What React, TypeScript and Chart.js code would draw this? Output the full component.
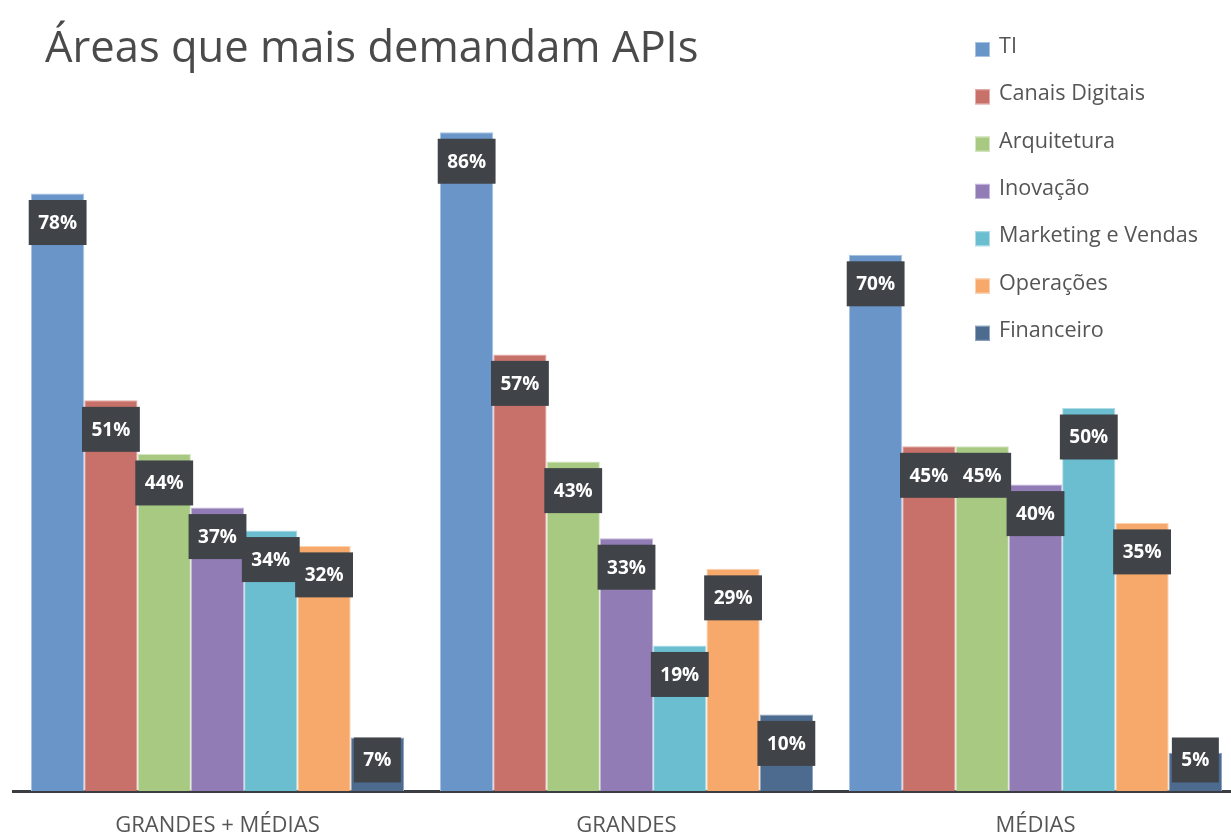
import React, { useEffect, useRef } from "react";
import { Chart, registerables } from "chart.js";

Chart.register(...registerables);

const TITLE = "Áreas que mais demandam APIs";
const categories = ["GRANDES + MÉDIAS", "GRANDES", "MÉDIAS"];
const seriesNames = ["TI", "Canais Digitais", "Arquitetura", "Inovação", "Marketing e Vendas", "Operações", "Financeiro"];
const ti = [78, 86, 70];
const canaisDigitais = [51, 57, 45];
const arquitetura = [44, 43, 45];
const inovacao = [37, 33, 40];
const marketingVendas = [34, 19, 50];
const operacoes = [32, 29, 35];
const financeiro = [7, 10, 5];
const seriesValues = [ti, canaisDigitais, arquitetura, inovacao, marketingVendas, operacoes, financeiro];
const colors = ["#6a95c9", "#c8706a", "#a8c982", "#917cb5", "#6bbdd0", "#f7a96b", "#4d6a8f"];
const borderColors = ["#a9c3e3", "#e3b0ab", "#d4e6bf", "#c4b6dc", "#b0dde8", "#fbd2b0", "#8fa5c2"];

const FONT = "'Open Sans', 'Noto Sans', sans-serif";

const overlayPlugin = {
  id: "overlay",
  afterDatasetsDraw(chart: any) {
    const ctx = chart.ctx;
    ctx.save();
    ctx.font = `bold 19px ${FONT}`;
    ctx.textAlign = "center";
    ctx.textBaseline = "middle";
    chart.data.datasets.forEach((ds: any, di: number) => {
      const meta = chart.getDatasetMeta(di);
      meta.data.forEach((bar: any, i: number) => {
        const text = `${ds.data[i]}%`;
        const w = ctx.measureText(text).width + 19;
        const h = 45;
        const cy = Math.min(bar.y + 29, 760);
        ctx.fillStyle = "#404448";
        ctx.fillRect(bar.x - w / 2, cy - h / 2, w, h);
        ctx.fillStyle = "#ffffff";
        ctx.fillText(text, bar.x, cy + 1);
      });
    });
    ctx.restore();
  },
  afterDraw(chart: any) {
    const ctx = chart.ctx;
    ctx.save();
    ctx.fillStyle = "#4a4a4a";
    ctx.font = `43.5px ${FONT}`;
    ctx.textAlign = "left";
    ctx.textBaseline = "alphabetic";
    ctx.fillText(TITLE, 45, 62);
    ctx.font = `21.6px ${FONT}`;
    ctx.textBaseline = "middle";
    seriesNames.forEach((name, i) => {
      const y = 47 + i * 47.3;
      ctx.fillStyle = colors[i];
      ctx.fillRect(975, y - 5, 15, 15);
      ctx.strokeStyle = borderColors[i];
      ctx.lineWidth = 1;
      ctx.strokeRect(975.5, y - 4.5, 14, 14);
      ctx.fillStyle = "#555555";
      ctx.fillText(name, 999, y);
    });
    ctx.restore();
  },
};

export default function App() {
  const ref = useRef<HTMLCanvasElement>(null);
  useEffect(() => {
    if (!ref.current) return;
    const chart = new Chart(ref.current, {
      type: "bar",
      data: {
        labels: categories,
        datasets: seriesNames.map((name, i) => ({
          label: name,
          data: seriesValues[i],
          backgroundColor: colors[i],
          borderColor: borderColors[i],
          borderWidth: 1,
          categoryPercentage: 0.912,
          barPercentage: 1,
        })),
      },
      options: {
        animation: false,
        responsive: false,
        devicePixelRatio: 1,
        layout: { padding: { top: 25, left: 13, right: 0, bottom: 0 } },
        plugins: { legend: { display: false }, title: { display: false }, tooltip: { enabled: false } },
        scales: {
          x: {
            z: 1,
            grid: { display: false, drawTicks: false },
            border: { display: true, color: "#3a3d41", width: 3 },
            ticks: { color: "#555555", font: { family: FONT, size: 22 }, padding: 22 },
            afterFit(scale: any) {
              scale.height = 48;
            },
          },
          y: { display: false, min: 0, max: 100 },
        },
      },
      plugins: [overlayPlugin],
    });
    return () => chart.destroy();
  }, []);
  return (
    <div style={{ position: "fixed", left: 0, top: 0, width: 1231, height: 839, overflow: "hidden", background: "#fff" }}>
      <canvas ref={ref} width={1240} height={839} style={{ width: 1240, height: 839, display: "block" }} />
    </div>
  );
}
